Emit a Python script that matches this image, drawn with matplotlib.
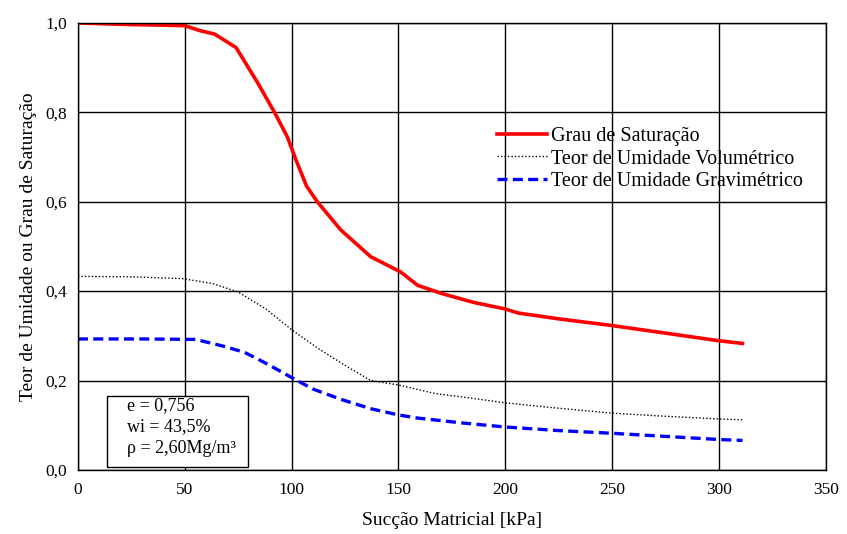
import numpy as np
import matplotlib
matplotlib.use("Agg")
import matplotlib.pyplot as plt
from matplotlib.ticker import FuncFormatter
from matplotlib.patches import Rectangle

plt.rcParams['font.family'] = ['Liberation Serif', 'DejaVu Serif']

# curva de saturacao
x_sat = [0, 20, 50, 57, 64, 74, 84, 92, 98, 102, 107, 112, 123, 137, 151, 159, 170, 185, 200, 206, 225, 250, 275, 300, 311]
y_sat = [1.0, 0.997, 0.994, 0.983, 0.975, 0.945, 0.867, 0.80, 0.745, 0.694, 0.635, 0.60, 0.537, 0.477, 0.443, 0.413, 0.395, 0.375, 0.36, 0.351, 0.338, 0.323, 0.306, 0.289, 0.283]

# teor de umidade volumetrico
x_vol = [0, 25, 49, 63, 75, 88, 101, 113, 125, 137, 150, 167, 185, 200, 225, 250, 275, 300, 311]
y_vol = [0.433, 0.432, 0.428, 0.417, 0.398, 0.36, 0.31, 0.27, 0.234, 0.20, 0.19, 0.171, 0.16, 0.15, 0.138, 0.127, 0.12, 0.114, 0.112]

# teor de umidade gravimetrico
x_grav = [0, 30, 55, 68, 78, 89, 101, 110, 123, 137, 150, 159, 180, 200, 225, 250, 275, 300, 311]
y_grav = [0.293, 0.293, 0.292, 0.277, 0.263, 0.236, 0.204, 0.181, 0.158, 0.137, 0.123, 0.116, 0.105, 0.096, 0.088, 0.082, 0.075, 0.068, 0.066]

info = ['e = 0,756', 'wi = 43,5%', 'ρ = 2,60Mg/m³']

xticks = np.arange(0, 351, 50)
yticks = np.arange(0, 1.01, 0.2)

fig = plt.figure(figsize=(8.47, 5.34), dpi=100)
ax = fig.add_axes([0.092, 0.12, 0.883, 0.837])

ax.plot(x_sat, y_sat, color='red', lw=2.6, label='Grau de Saturação')
ax.plot(x_vol, y_vol, color='black', lw=1.0, linestyle=(0, (1, 1.5)), label='Teor de Umidade Volumétrico')
ax.plot(x_grav, y_grav, color='blue', lw=2.4, linestyle=(0, (3, 1.6)), label='Teor de Umidade Gravimétrico')

ax.set_xlim(0, 350)
ax.set_ylim(0, 1.0)
ax.set_xticks(xticks)
ax.set_yticks(yticks)
ax.yaxis.set_major_formatter(FuncFormatter(lambda v, p: f"{v:.1f}".replace('.', ',')))
ax.grid(True, color='black', lw=1.0)
ax.tick_params(length=0, labelsize=12.5)
ax.tick_params(axis='x', pad=9)
ax.tick_params(axis='y', pad=8)
for s in ax.spines.values():
    s.set_color('black')
    s.set_linewidth(1.0)

ax.set_xlabel('Sucção Matricial [kPa]', fontsize=14, labelpad=10)
ax.set_ylabel('Teor de Umidade ou Grau de Saturação', fontsize=14, labelpad=6)

leg = ax.legend(loc='upper left', bbox_to_anchor=(0.56, 0.767), frameon=False, fontsize=14.5,
                handlelength=2.5, handletextpad=0.2, labelspacing=0.16, borderpad=0, borderaxespad=0)

# caixa com os parametros
ax.add_patch(Rectangle((0.039, 0.007), 0.188, 0.159, transform=ax.transAxes,
                       facecolor='white', edgecolor='black', lw=1.0, zorder=5))
for i, t in enumerate(info):
    ax.text(0.066, 0.145 - i * 0.048, t, transform=ax.transAxes, fontsize=13,
            va='center', ha='left', zorder=6)

fig.savefig('out.png', dpi=100)
